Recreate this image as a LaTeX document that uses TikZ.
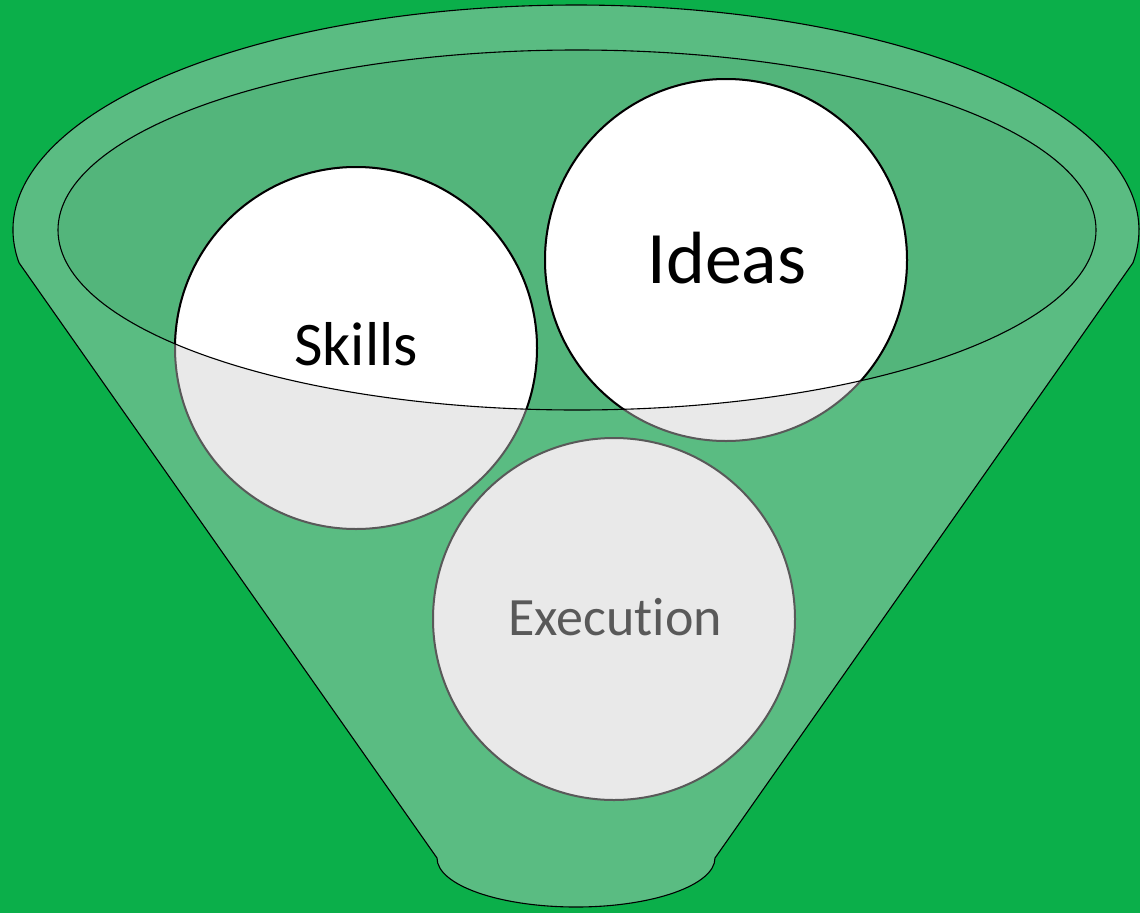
\documentclass[tikz,border=0pt]{standalone}
\usepackage{fontspec}
\setmainfont{Carlito}[Ligatures=NoCommon]
\definecolor{bggreen}{HTML}{0BAF4A}
\definecolor{funnelgreen}{HTML}{5ABC82}
\definecolor{innergreen}{HTML}{53B57B}
\definecolor{ballgray}{HTML}{E9E9E9}
\definecolor{edgegray}{HTML}{595959}
\tikzset{
  ball/.style={circle, minimum size=362pt, inner sep=0pt, fill=ballgray, draw=edgegray, line width=2pt},
  whiteball/.style={fill=white, draw=black, line width=2pt},
  outline/.style={draw=black, line width=1.1pt},
  label/.style={inner sep=0pt, anchor=base}
}
\begin{document}
\begin{tikzpicture}[x=1pt,y=-1pt]
\useasboundingbox (0,0) rectangle (1140,913);
\fill[bggreen] (0,0) rectangle (1140,913);
% funnel body
\coordinate (oc) at (576,230);
\coordinate (bc) at (576,858);
\path[fill=funnelgreen, outline]
  (oc) ++(171.6:563 and 225) arc[start angle=171.6, end angle=368.4, x radius=563, y radius=225]
  -- (715,858) arc[start angle=0, end angle=180, x radius=139, y radius=49]
  -- cycle;
% inner ellipse fill
\fill[innergreen] (577,230) ellipse[x radius=519, y radius=180];
% balls (gray layer)
\node[ball] (skills) at (356,348) {};
\node[ball] (ideas) at (726,260) {};
\node[ball] (execution) at (614,619) {};
% white parts inside inner ellipse
\begin{scope}
  \clip (577,230) ellipse[x radius=519, y radius=180];
  \path[whiteball] (skills.center) circle[radius=181];
  \path[whiteball] (ideas.center) circle[radius=181];
\end{scope}
% inner ellipse outline
\draw[outline] (577,230) ellipse[x radius=519, y radius=180];
% labels
\node[label, font=\fontsize{62}{62}\selectfont] (skillsT) at (356,365) {Skills};
\node[label, font=\fontsize{74}{74}\selectfont] (ideasT) at (727,283) {Ideas};
\node[label, font=\fontsize{54}{54}\selectfont, text=edgegray] (executionT) at (615,635) {Execut\kern0pt ion};
\end{tikzpicture}
\end{document}
